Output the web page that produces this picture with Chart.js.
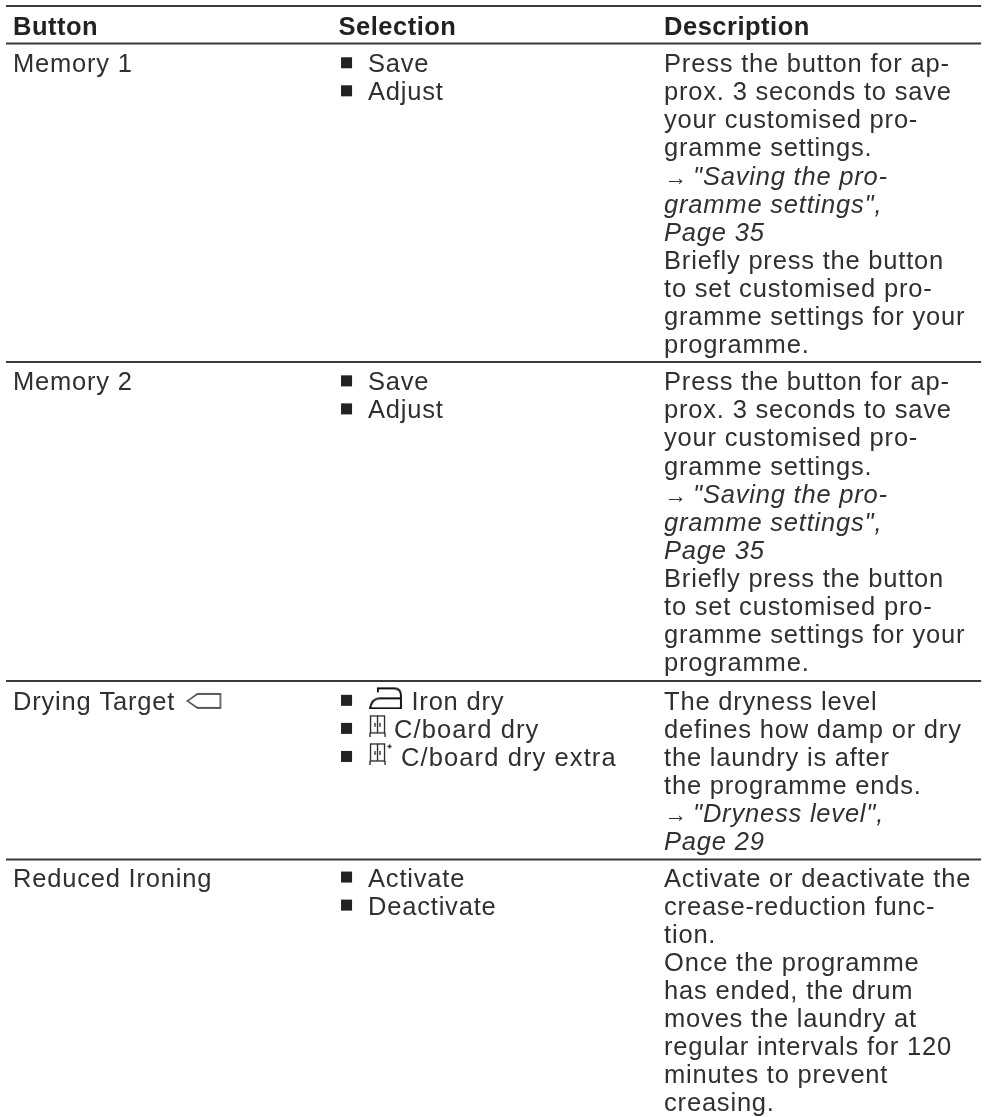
<!DOCTYPE html>
<html>
<head>
<meta charset="utf-8">
<title>Buttons</title>
<script src="https://cdn.jsdelivr.net/npm/chart.js@4"></script>
<style>
  html, body { margin: 0; background: #fff; }
  canvas { display: block; }
</style>
</head>
<body>
<canvas id="table-chart" width="986" height="1117"></canvas>
<script>
// table content
var columnTitles = ['Button', 'Selection', 'Description'];
var buttonNames = ['Memory 1', 'Memory 2', 'Drying Target', 'Reduced Ironing'];
var selections = [
  ['Save', 'Adjust'],
  ['Save', 'Adjust'],
  ['Iron dry', 'C/board dry', 'C/board dry extra'],
  ['Activate', 'Deactivate']
];
var selectionIcons = [
  [null, null],
  [null, null],
  ['iron', 'cupboard', 'cupboardPlus'],
  [null, null]
];
var descriptions = [
  ['Press the button for ap-', 'prox. 3 seconds to save', 'your customised pro-', 'gramme settings.', '\u2192 "Saving the pro-', 'gramme settings",', 'Page 35', 'Briefly press the button', 'to set customised pro-', 'gramme settings for your', 'programme.'],
  ['Press the button for ap-', 'prox. 3 seconds to save', 'your customised pro-', 'gramme settings.', '\u2192 "Saving the pro-', 'gramme settings",', 'Page 35', 'Briefly press the button', 'to set customised pro-', 'gramme settings for your', 'programme.'],
  ['The dryness level', 'defines how damp or dry', 'the laundry is after', 'the programme ends.', '\u2192 "Dryness level",', 'Page 29'],
  ['Activate or deactivate the', 'crease-reduction func-', 'tion.', 'Once the programme', 'has ended, the drum', 'moves the laundry at', 'regular intervals for 120', 'minutes to prevent', 'creasing.']
];
var linkLines = ['\u2192 "Saving the pro-', 'gramme settings",', 'Page 35', '\u2192 "Dryness level",', 'Page 29'];
// y positions are in text lines, counted from the header baseline
var rowStarts = [1.33, 12.67, 24.06, 30.36];
var ruleLines = [-1.034, 0.303, 11.658, 23.03, 29.39];

var FONT = '"Liberation Sans", Arial, sans-serif';
var TEXT_COLOR = '#303030';
var BULLET_X = 1.0246;
var ARROW = '\u2192 ';
var ARROW_GAP = 0.089;
var TEXT_X = { none: 1.0906, iron: 1.224, cupboard: 1.1705, cupboardPlus: 1.192 };
var ICON_X = { iron: 1.144, cupboard: 1.1214, cupboardPlus: 1.1306, tag: 0.588 };

function iconCanvas(w, h, draw) {
  var c = document.createElement('canvas');
  c.width = w;
  c.height = h;
  var g = c.getContext('2d');
  g.strokeStyle = '#222';
  g.fillStyle = '#222';
  g.lineWidth = 1.3;
  draw(g);
  return c;
}

function drawCupboard(g) {
  g.strokeRect(1.5, 1, 14, 17);
  g.beginPath();
  g.moveTo(8.5, 1); g.lineTo(8.5, 18);
  g.moveTo(1, 18); g.lineTo(1, 22);
  g.moveTo(16, 18); g.lineTo(16, 22);
  g.moveTo(6, 8); g.lineTo(6, 12);
  g.moveTo(11, 8); g.lineTo(11, 12);
  g.stroke();
}

var iconImages = {
  iron: iconCanvas(33, 23, function (g) {
    g.lineWidth = 1.9;
    g.strokeStyle = '#111';
    g.beginPath();
    g.moveTo(9, 6);
    g.lineTo(9, 2);
    g.lineTo(25, 2);
    g.quadraticCurveTo(32, 2, 32, 9);
    g.lineTo(32, 22);
    g.lineTo(1, 22);
    g.quadraticCurveTo(3, 12, 11, 12);
    g.lineTo(32, 12);
    g.stroke();
  }),
  cupboard: iconCanvas(18, 22, drawCupboard),
  cupboardPlus: iconCanvas(24, 22, function (g) {
    drawCupboard(g);
    g.beginPath();
    g.moveTo(18.5, 3.5); g.lineTo(22.5, 3.5);
    g.moveTo(20.5, 1.5); g.lineTo(20.5, 5.5);
    g.stroke();
  }),
  tag: iconCanvas(36, 18, function (g) {
    g.beginPath();
    g.moveTo(34, 2);
    g.lineTo(11, 2);
    g.lineTo(1, 9);
    g.lineTo(11, 16);
    g.lineTo(34, 16);
    g.closePath();
    g.stroke();
  })
};

// datasets built from the arrays above
var ruleDatasets = ruleLines.map(function (v) {
  return {
    type: 'scatter',
    showLine: true,
    data: [{ x: -0.0215, y: v }, { x: 2.974, y: v }],
    borderColor: '#3a3a3a',
    borderWidth: 2,
    pointRadius: 0
  };
});

var bulletPoints = [];
var iconPoints = [];
var iconStyles = [];
selections.forEach(function (list, r) {
  list.forEach(function (label, i) {
    bulletPoints.push({ x: BULLET_X, y: rowStarts[r] + i - 0.34 });
    var icon = selectionIcons[r][i];
    if (icon) {
      iconPoints.push({ x: ICON_X[icon], y: rowStarts[r] + i - 0.43 });
      iconStyles.push(iconImages[icon]);
    }
  });
});
iconPoints.push({ x: ICON_X.tag, y: rowStarts[2] - 0.32 });
iconStyles.push(iconImages.tag);

var tablePlugin = {
  id: 'tableText',
  afterDatasetsDraw: function (chart) {
    var ctx = chart.ctx;
    var xs = chart.scales.x;
    var ys = chart.scales.y;
    function put(text, col, line, font) {
      ctx.font = font;
      ctx.fillText(text, xs.getPixelForValue(col), ys.getPixelForValue(line));
    }
    ctx.save();
    ctx.fillStyle = '#222';
    ctx.textBaseline = 'alphabetic';
    ctx.textAlign = 'left';

    ctx.letterSpacing = '0.5px';
    columnTitles.forEach(function (t, c) {
      put(t, c, 0, 'bold 25.5px ' + FONT);
    });

    ctx.fillStyle = TEXT_COLOR;
    var regular = '25.5px ' + FONT;
    var italic = 'italic 25.5px ' + FONT;
    buttonNames.forEach(function (name, r) {
      ctx.letterSpacing = '0.8px';
      put(name, 0, rowStarts[r], regular);
      selections[r].forEach(function (label, i) {
        var icon = selectionIcons[r][i];
        // the C/board lines run a little wider in the original
        ctx.letterSpacing = (icon === 'cupboard' || icon === 'cupboardPlus') ? '1.1px' : '0.8px';
        put(label, TEXT_X[icon || 'none'], rowStarts[r] + i, regular);
      });
      ctx.letterSpacing = '0.8px';
      descriptions[r].forEach(function (line, i) {
        var font = linkLines.indexOf(line) >= 0 ? italic : regular;
        if (line.indexOf(ARROW) === 0) {
          put(ARROW.trim(), 2, rowStarts[r] + i, '23px ' + FONT);
          put(line.slice(ARROW.length), 2 + ARROW_GAP, rowStarts[r] + i, font);
        } else {
          put(line, 2, rowStarts[r] + i, font);
        }
      });
    });
    ctx.restore();
  }
};

new Chart(document.getElementById('table-chart'), {
  type: 'scatter',
  data: {
    datasets: ruleDatasets.concat([
      {
        data: bulletPoints,
        pointStyle: 'rect',
        pointRadius: 7.8,
        pointRotation: 0,
        backgroundColor: '#222',
        borderWidth: 0
      },
      {
        data: iconPoints,
        pointStyle: iconStyles,
        pointRadius: 10
      }
    ])
  },
  options: {
    responsive: false,
    animation: false,
    layout: { padding: 0, autoPadding: false },
    events: [],
    plugins: { legend: { display: false }, tooltip: { enabled: false } },
    scales: {
      x: { type: 'linear', display: false, min: -0.04, max: 2.989 },
      y: { type: 'linear', display: false, reverse: true, min: -1.2478, max: 38.574 }
    }
  },
  plugins: [tablePlugin]
});
</script>
</body>
</html>
